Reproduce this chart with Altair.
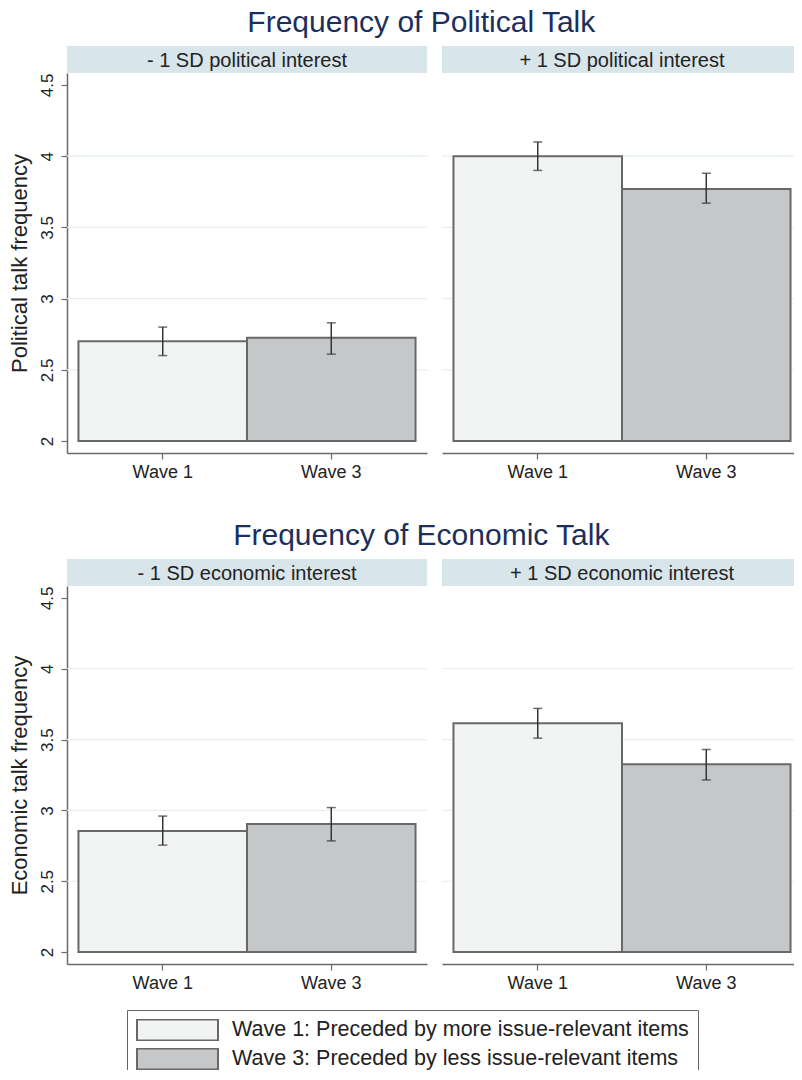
import altair as alt
import pandas as pd

# ---------------- data ----------------
waves = ["Wave 1", "Wave 3"]
legend_labels = ["Wave 1: Preceded by more issue-relevant items",
                 "Wave 3: Preceded by less issue-relevant items"]
bar_fills = ["#f2f4f3", "#c6c7c9"]

row_titles = ["Frequency of Political Talk", "Frequency of Economic Talk"]
y_titles = ["Political talk frequency", "Economic talk frequency"]
pol_strips = ["- 1 SD political interest", "+ 1 SD political interest"]
eco_strips = ["- 1 SD economic interest", "+ 1 SD economic interest"]

pol_low_mean = [2.70, 2.725]
pol_low_lo = [2.60, 2.61]
pol_low_hi = [2.80, 2.83]
pol_high_mean = [4.00, 3.77]
pol_high_lo = [3.90, 3.67]
pol_high_hi = [4.10, 3.88]

eco_low_mean = [2.855, 2.905]
eco_low_lo = [2.755, 2.785]
eco_low_hi = [2.96, 3.02]
eco_high_mean = [3.615, 3.325]
eco_high_lo = [3.51, 3.215]
eco_high_hi = [3.72, 3.43]

y_ticks = [2, 2.5, 3, 3.5, 4, 4.5]
grid_values = [2.5, 3, 3.5, 4]
y_domain = [1.916, 4.584]
bar_base = 2

# ---------------- style ----------------
FONT = "Liberation Sans, Arial, Helvetica, sans-serif"
NAVY = "#1c2f5c"
STRIP = "#d8e5eb"
GRID = "#e6eff2"
AXIS = "#6a6a6a"
BAR_STROKE = "#686868"
W = 360
STRIP_H = 27


def panel(mean, lo, hi, strip_label, ytitle, first, h):
    df = pd.DataFrame({"wave": waves, "group": legend_labels,
                       "mean": mean, "lo": lo, "hi": hi})
    yscale = alt.Scale(domain=y_domain, nice=False, zero=False)
    xscale = alt.Scale(paddingInner=0, paddingOuter=0.068)
    xaxis = alt.Axis(title=None, labelAngle=0, labelFontSize=18, labelFont=FONT,
                     labelColor="#222", tickSize=6, tickColor=AXIS, tickWidth=1.2,
                     domainColor=AXIS, domainWidth=1.5, labelPadding=4, grid=False)
    if first:
        yaxis = alt.Axis(values=y_ticks, format="~g", labelAngle=270,
                         labelAlign="center", labelBaseline="bottom",
                         labelFontSize=17, labelFont=FONT, labelColor="#222",
                         labelPadding=5, tickSize=6, tickColor=AXIS, tickWidth=1.2,
                         domainColor=AXIS, domainWidth=1.5, grid=False,
                         title=ytitle, titleFont=FONT, titleFontSize=22,
                         titleFontWeight="normal", titleColor="#222",
                         titlePadding=7)
    else:
        yaxis = None

    x = alt.X("wave:N", scale=xscale, axis=xaxis, sort=waves)

    grid = alt.Chart(pd.DataFrame({"g": grid_values})).mark_rule(
        color=GRID, strokeWidth=1.2
    ).encode(y=alt.Y("g:Q", scale=yscale, axis=yaxis))

    bars = alt.Chart(df).mark_bar(stroke=BAR_STROKE, strokeWidth=2).encode(
        x=x,
        y=alt.Y("mean:Q", scale=yscale, axis=yaxis),
        y2=alt.Y2(datum=bar_base),
        fill=alt.Fill(
            "group:N",
            scale=alt.Scale(domain=legend_labels, range=bar_fills),
            legend=alt.Legend(
                title=None, orient="none", legendX=60, legendY=964,
                direction="vertical",
                symbolType="M-1,-0.26H1V0.26H-1Z", symbolSize=6561,
                symbolStrokeColor=BAR_STROKE, symbolStrokeWidth=2,
                symbolOpacity=1,
                labelFontSize=21.5, labelFont=FONT, labelColor="#222",
                labelOffset=13, labelLimit=700, clipHeight=22, rowPadding=7,
                padding=9, strokeColor="#666",
            ),
        ),
    )
    err = alt.Chart(df).mark_rule(color="#333", strokeWidth=1.5).encode(
        x=x, y=alt.Y("lo:Q", scale=yscale, axis=yaxis), y2="hi:Q")
    cap_lo = alt.Chart(df).mark_tick(color="#333", thickness=1.5, size=9).encode(
        x=x, y=alt.Y("lo:Q", scale=yscale, axis=yaxis))
    cap_hi = alt.Chart(df).mark_tick(color="#333", thickness=1.5, size=9).encode(
        x=x, y=alt.Y("hi:Q", scale=yscale, axis=yaxis))

    plot = alt.layer(grid, bars, err, cap_lo, cap_hi).properties(width=W, height=h)

    sdf = pd.DataFrame({"label": [strip_label]})
    srect = alt.Chart(sdf).mark_rect(color=STRIP).encode(
        x=alt.value(0), x2=alt.value(W), y=alt.value(0), y2=alt.value(STRIP_H))
    stext = alt.Chart(sdf).mark_text(fontSize=20, font=FONT, color="#222").encode(
        x=alt.value(W / 2), y=alt.value(STRIP_H / 2 + 1), text="label:N")
    strip = alt.layer(srect, stext).properties(width=W, height=STRIP_H)

    return alt.vconcat(strip, plot, spacing=0)


def row(title, ytitle, strips, means, los, his, h):
    left = panel(means[0], los[0], his[0], strips[0], ytitle, True, h)
    right = panel(means[1], los[1], his[1], strips[1], ytitle, False, h)
    return alt.hconcat(left, right, spacing=13).properties(
        title=alt.TitleParams(text=title, font=FONT, fontSize=30, color=NAVY,
                              fontWeight="normal", anchor="middle", offset=8, dx=16)
    )


row1 = row(row_titles[0], y_titles[0], pol_strips,
           [pol_low_mean, pol_high_mean], [pol_low_lo, pol_high_lo],
           [pol_low_hi, pol_high_hi], 380)
row2 = row(row_titles[1], y_titles[1], eco_strips,
           [eco_low_mean, eco_high_mean], [eco_low_lo, eco_high_lo],
           [eco_low_hi, eco_high_hi], 378)

PAD_L, PAD_T = 59, 38
SVG_W, SVG_H = 786, 1062
chart = alt.vconcat(row1, row2, spacing=40).properties(
    autosize=alt.AutoSizeParams(type="none"),
    padding={"left": PAD_L, "top": PAD_T, "right": SVG_W - PAD_L, "bottom": SVG_H - PAD_T},
    background="white",
).configure_view(stroke=None)

chart.save("out.html", embed_options={"renderer": "svg", "actions": False})
